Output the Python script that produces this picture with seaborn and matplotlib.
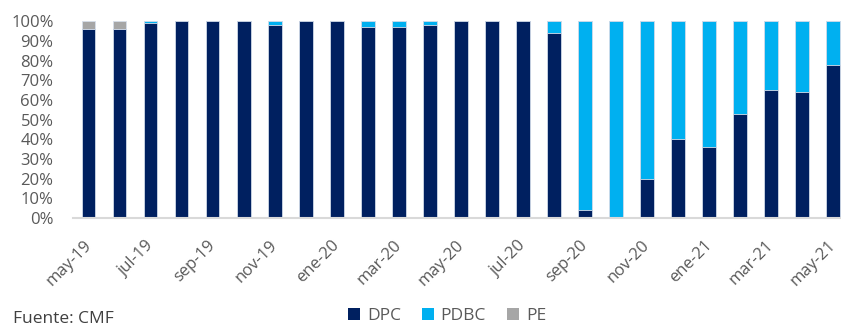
import matplotlib
matplotlib.use("Agg")
import matplotlib.pyplot as plt
import matplotlib.transforms as mtransforms
import seaborn as sns
import numpy as np
import pandas as pd
from matplotlib.patches import Patch

months = ["may-19", "jun-19", "jul-19", "ago-19", "sep-19", "oct-19", "nov-19", "dic-19",
          "ene-20", "feb-20", "mar-20", "abr-20", "may-20", "jun-20", "jul-20", "ago-20",
          "sep-20", "oct-20", "nov-20", "dic-20", "ene-21", "feb-21", "mar-21", "abr-21", "may-21"]
dpc = [96, 96, 99, 100, 100, 100, 98, 100,
       100, 97, 97, 98, 100, 100, 100, 94,
       4, 0, 20, 40, 36, 53, 65, 64, 78]
pdbc = [0, 0, 1, 0, 0, 0, 2, 0,
        0, 3, 3, 2, 0, 0, 0, 6,
        96, 100, 80, 60, 64, 47, 35, 36, 22]
pe = [4, 4, 0, 0, 0, 0, 0, 0,
      0, 0, 0, 0, 0, 0, 0, 0,
      0, 0, 0, 0, 0, 0, 0, 0, 0]
series_names = ["DPC", "PDBC", "PE"]
colors = ["#002060", "#00B0F0", "#A6A6A6"]

sns.set_theme(style="white")
plt.rcParams['font.family'] = ['Open Sans', 'DejaVu Sans']

df = pd.DataFrame({"mes": months, "DPC": dpc, "PDBC": pdbc, "PE": pe})
df["c_dpc"] = df["DPC"] / 100
df["c_pdbc"] = (df["DPC"] + df["PDBC"]) / 100
df["c_pe"] = (df["DPC"] + df["PDBC"] + df["PE"]) / 100

fig = plt.figure(figsize=(8.41, 3.26), dpi=100)
ax = fig.add_axes([73 / 841, (326 - 218) / 326, (841 - 73) / 841, 196.7 / 326])

edge = "#D6DEEA"
for col, c in [("c_pe", colors[2]), ("c_pdbc", colors[1]), ("c_dpc", colors[0])]:
    sns.barplot(data=df, x="mes", y=col, order=months, color=c, width=0.45,
                edgecolor=edge, linewidth=0.6, saturation=1, ax=ax)

ax.set_xlim(-0.5, 24.27)
ax.set_ylim(0, 1)
ax.set_xlabel("")
ax.set_ylabel("")

ax.set_yticks(np.arange(0, 1.01, 0.1))
ax.set_yticklabels([f"{int(round(v*100))}%" for v in np.arange(0, 1.01, 0.1)],
                   color="#595959", fontsize=12)
ax.tick_params(axis="y", length=0, pad=14)

ax.set_xticks(range(0, 25, 2))
ax.set_xticklabels(months[::2], rotation=45, ha="right", rotation_mode="anchor",
                   color="#595959", fontsize=12)
ax.tick_params(axis="x", which="major", length=0, pad=14)
shift = mtransforms.ScaledTranslation(-5 / 100, 0, fig.dpi_scale_trans)
for lbl in ax.get_xticklabels():
    lbl.set_transform(lbl.get_transform() + shift)
ax.set_xticks(np.arange(-0.5, 24, 2), minor=True)
ax.tick_params(axis="x", which="minor", length=6, width=1.3, color="#D9D9D9", direction="out")

for s in ["top", "right", "left"]:
    ax.spines[s].set_visible(False)
ax.spines["bottom"].set_color("#D9D9D9")
ax.spines["bottom"].set_linewidth(1.5)
ax.grid(False)

handles = [Patch(facecolor=c, edgecolor="none") for c in colors]
fig.legend(handles, series_names, loc="center", bbox_to_anchor=(447 / 841, 1 - 316 / 326),
           ncol=3, frameon=False, fontsize=12.5, labelcolor="#595959",
           handlelength=0.7, handleheight=0.7, handletextpad=0.4, columnspacing=1.2)

fig.text(13 / 841, 1 - 311 / 326, "Fuente: CMF", fontsize=12.5, color="#404040",
         ha="left", va="top")

fig.savefig("out.png", dpi=100)
